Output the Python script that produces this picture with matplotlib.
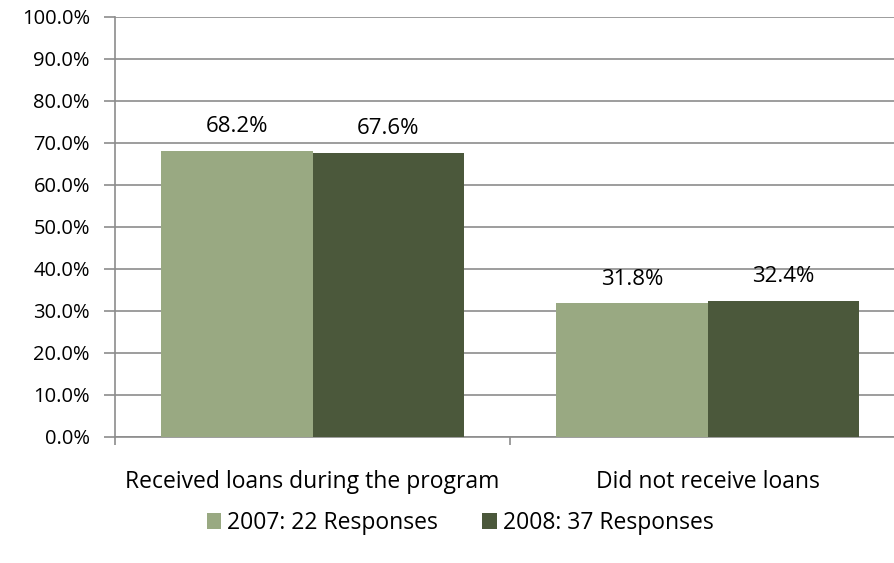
import numpy as np
import matplotlib.pyplot as plt
import matplotlib as mpl

mpl.rcParams['font.family'] = ['Open Sans', 'DejaVu Sans']

categories = ['Received loans during the program', 'Did not receive loans']
series_names = ['2007: 22 Responses', '2008: 37 Responses']
vals_2007 = [68.2, 31.8]
vals_2008 = [67.6, 32.4]
colors = ['#99A982', '#4B583B']

grid_col = '#8C8C8C'
fs = 16.5
fs_tick = 14.5

fig = plt.figure(figsize=(8.94, 5.63), dpi=100)
ax = fig.add_axes([115/894, 126/563, 790/894, 420/563])

x = np.arange(len(categories))
w = 0.383
b1 = ax.bar(x - w/2, vals_2007, w, color=colors[0], label=series_names[0], zorder=3)
b2 = ax.bar(x + w/2, vals_2008, w, color=colors[1], label=series_names[1], zorder=3)

for bars, vals in ((b1, vals_2007), (b2, vals_2008)):
    for r, v in zip(bars, vals):
        ax.text(r.get_x() + r.get_width()/2, v + 4.5, '%.1f%%' % v,
                ha='center', va='baseline', fontsize=16, color='#000000')

ax.set_xlim(-0.5, 1.5)
ax.set_ylim(0, 100)
ax.set_yticks(np.arange(0, 101, 10))
ax.set_yticklabels(['%.1f%%' % t for t in np.arange(0, 101, 10)], fontsize=fs_tick)
ax.yaxis.grid(True, color=grid_col, linewidth=1.2, zorder=0)
ax.set_axisbelow(True)

# category ticks sit at the boundaries, labels at centers
ax.set_xticks([-0.5, 0.5, 1.5])
ax.set_xticklabels([])
ax.set_xticks(x, minor=True)
ax.set_xticklabels(categories, minor=True, fontsize=fs)
ax.tick_params(axis='x', which='minor', length=0, pad=24)
ax.tick_params(axis='x', which='major', length=6, color=grid_col, width=1.2)
ax.tick_params(axis='y', length=8, color=grid_col, width=1.2, pad=10)

for s in ['top', 'right']:
    ax.spines[s].set_visible(False)
ax.spines['left'].set_color(grid_col)
ax.spines['bottom'].set_color(grid_col)
ax.spines['left'].set_linewidth(1.2)
ax.spines['bottom'].set_linewidth(1.2)

fig.legend(handles=[b1, b2], loc='center', bbox_to_anchor=(460/894, 1 - 523/563),
           ncol=2, frameon=False, fontsize=fs, handlelength=0.65, handleheight=0.65,
           columnspacing=1.9, handletextpad=0.26)

fig.savefig('out.png', dpi=100)
